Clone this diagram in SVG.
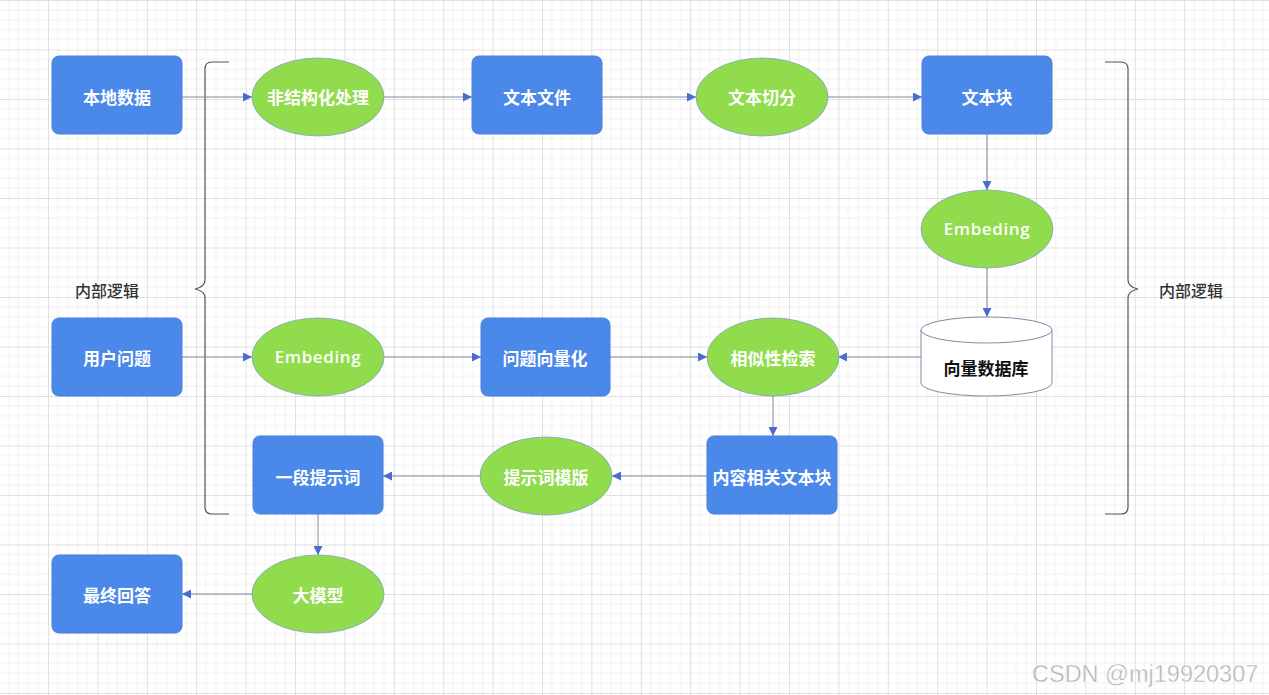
<svg xmlns="http://www.w3.org/2000/svg" width="1269" height="695" viewBox="0 0 1269 695">
  <defs>
    <pattern id="grid" patternUnits="userSpaceOnUse" x="48" y="0" width="49.4" height="49.5">
      <path d="M9.88 0V49.5M19.76 0V49.5M29.64 0V49.5M39.52 0V49.5M0 9.9H49.4M0 19.8H49.4M0 29.7H49.4M0 39.6H49.4" stroke="#f2f2f2" stroke-width="1" fill="none"/>
      <path d="M0.5 0V49.5M0 0.5H49.4" stroke="#e0e0e0" stroke-width="1" fill="none"/>
    </pattern>
    <marker id="arrow" viewBox="0 0 10 10" refX="10" refY="5" markerWidth="9" markerHeight="9" markerUnits="userSpaceOnUse" orient="auto">
      <path d="M0 0L10 5L0 10z" fill="#4a6bd0"/>
    </marker>
    <style>
      .box { fill: #4a88ea; stroke: #4a7fd8; stroke-width: 1; }
      .oval { fill: #90dc4c; stroke: #7f9fc0; stroke-width: 0.8; }
      .lbl { font-family: "Noto Sans CJK SC", "Noto Sans", sans-serif; font-size: 17px; font-weight: bold; fill: #ffffff; text-anchor: middle; dominant-baseline: central; }
      .lat { font-family: "Open Sans", "Noto Sans", sans-serif; font-size: 17px; font-weight: 600; letter-spacing: 0.6px; }
      .dark { fill: #111111; }
      .side { font-family: "Noto Sans CJK SC", sans-serif; font-size: 16px; font-weight: 500; fill: #333333; text-anchor: middle; dominant-baseline: central; }
      .edge { stroke: #7d8aa3; stroke-width: 1; fill: none; marker-end: url(#arrow); }
      .brace { stroke: #555555; stroke-width: 1.2; fill: none; }
      .mark { font-family: "Liberation Sans", Arial, sans-serif; font-size: 23.5px; fill: #b4b4b4; stroke: #ffffff; stroke-width: 0.4; }
    </style>
  </defs>

  <rect width="1269" height="695" fill="#ffffff"/>
  <rect width="1269" height="695" fill="url(#grid)"/>

  <!-- grouping braces -->
  <g id="brace-left">
    <path class="brace" d="M229 62H212Q205 62 205 69V280Q205 287 195 289Q205 291 205 298V507Q205 514 212 514H229"/>
    <text class="side" x="107" y="290">内部逻辑</text>
  </g>
  <g id="brace-right">
    <path class="brace" d="M1105 62H1121Q1128 62 1128 69V280Q1128 287 1138 289Q1128 291 1128 298V507Q1128 514 1121 514H1105"/>
    <text class="side" x="1191" y="290">内部逻辑</text>
  </g>

  <!-- connectors -->
  <g id="connectors">
    <path class="edge" d="M182 97H252"/>
    <path class="edge" d="M384 97H472"/>
    <path class="edge" d="M602 97H696"/>
    <path class="edge" d="M828 97H922"/>
    <path class="edge" d="M987 134V190"/>
    <path class="edge" d="M987 268V317"/>
    <path class="edge" d="M921 357H838"/>
    <path class="edge" d="M182 357H252"/>
    <path class="edge" d="M384 357H481"/>
    <path class="edge" d="M610 357H707"/>
    <path class="edge" d="M773 396V436"/>
    <path class="edge" d="M707 476H612"/>
    <path class="edge" d="M480 476H383"/>
    <path class="edge" d="M318 514V555"/>
    <path class="edge" d="M252 594H182"/>
  </g>

  <!-- nodes -->
  <g id="local-data">
    <rect class="box" x="52" y="56" width="130" height="78" rx="7"/>
    <text class="lbl" x="117" y="96">本地数据</text>
  </g>
  <g id="unstructured">
    <ellipse class="oval" cx="318" cy="97" rx="66" ry="39"/>
    <text class="lbl" x="318" y="96">非结构化处理</text>
  </g>
  <g id="text-file">
    <rect class="box" x="472" y="56" width="130" height="78" rx="7"/>
    <text class="lbl" x="537" y="96">文本文件</text>
  </g>
  <g id="text-split">
    <ellipse class="oval" cx="762" cy="97" rx="66" ry="39"/>
    <text class="lbl" x="762" y="96">文本切分</text>
  </g>
  <g id="text-chunk">
    <rect class="box" x="922" y="56" width="130" height="78" rx="7"/>
    <text class="lbl" x="987" y="96">文本块</text>
  </g>
  <g id="embed-doc">
    <ellipse class="oval" cx="987" cy="229" rx="66" ry="39"/>
    <text class="lbl lat" x="987" y="228">Embeding</text>
  </g>
  <g id="vector-db">
    <path d="M921 330V383A65.5 13 0 0 0 1052 383V330" fill="#ffffff" stroke="#7f8ba8" stroke-width="1"/>
    <ellipse cx="986.5" cy="330" rx="65.5" ry="13" fill="#ffffff" stroke="#7f8ba8" stroke-width="1"/>
    <text class="lbl dark" x="986" y="367">向量数据库</text>
  </g>
  <g id="user-question">
    <rect class="box" x="52" y="318" width="130" height="78" rx="7"/>
    <text class="lbl" x="117" y="357">用户问题</text>
  </g>
  <g id="embed-query">
    <ellipse class="oval" cx="318" cy="357" rx="66" ry="39"/>
    <text class="lbl lat" x="318" y="356">Embeding</text>
  </g>
  <g id="query-vector">
    <rect class="box" x="481" y="318" width="129" height="78" rx="7"/>
    <text class="lbl" x="545" y="357">问题向量化</text>
  </g>
  <g id="similarity">
    <ellipse class="oval" cx="773" cy="357" rx="66" ry="39"/>
    <text class="lbl" x="773" y="357">相似性检索</text>
  </g>
  <g id="related-chunks">
    <rect class="box" x="707" y="436" width="130" height="78" rx="7"/>
    <text class="lbl" x="772" y="476">内容相关文本块</text>
  </g>
  <g id="prompt-template">
    <ellipse class="oval" cx="546" cy="476" rx="66" ry="39"/>
    <text class="lbl" x="546" y="476">提示词模版</text>
  </g>
  <g id="prompt">
    <rect class="box" x="253" y="436" width="130" height="78" rx="7"/>
    <text class="lbl" x="318" y="476">一段提示词</text>
  </g>
  <g id="llm">
    <ellipse class="oval" cx="318" cy="594" rx="66" ry="39"/>
    <text class="lbl" x="318" y="594">大模型</text>
  </g>
  <g id="final-answer">
    <rect class="box" x="52" y="555" width="130" height="78" rx="7"/>
    <text class="lbl" x="117" y="594">最终回答</text>
  </g>

  <text class="mark" x="1032" y="682">CSDN @mj19920307</text>
</svg>
